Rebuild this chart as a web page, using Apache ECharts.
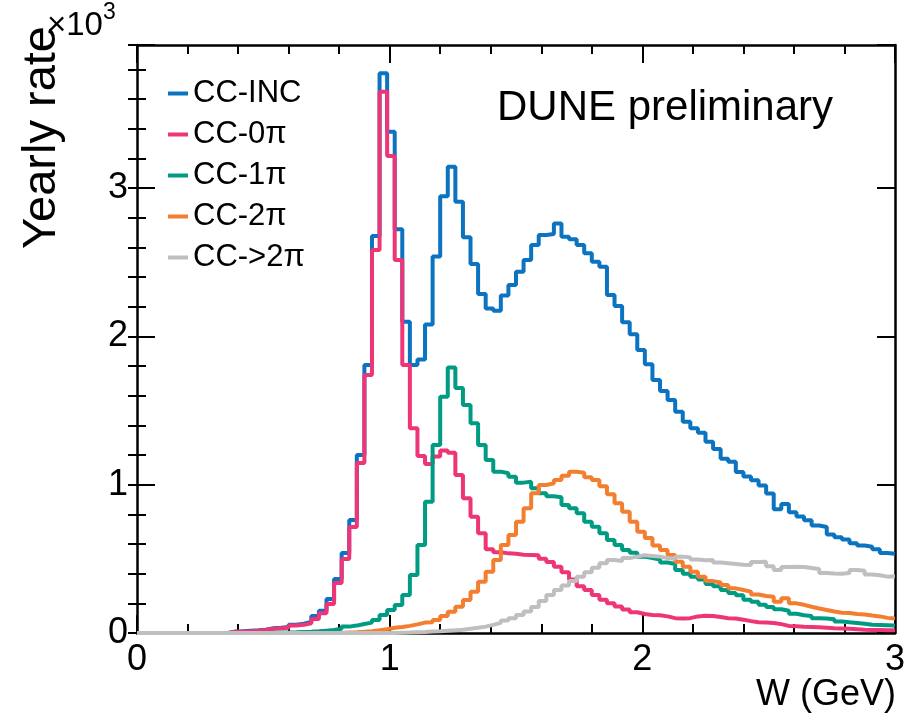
<!DOCTYPE html>
<html><head><meta charset="utf-8">
<script src="https://cdn.jsdelivr.net/npm/echarts@6/dist/echarts.min.js"></script>
<style>html,body{margin:0;padding:0;background:#fff}#c{width:908px;height:719px}</style>
</head><body><div id="c"></div>
<script>
// W bins: 100 bins of 0.03 GeV from 0 to 3 GeV
const binWidth = 0.03;
const nBins = 100;
const seriesNames = ['CC-INC', 'CC-0\u03c0', 'CC-1\u03c0', 'CC-2\u03c0', 'CC->2\u03c0'];
const xTickValues = [0, 1, 2, 3];
const yTickLabels = ['0', '1', '2', '3'];

const ccInc = [
  0,0,0,0,0,0,0,0,0,0,0,0,
  10,12,15,18,22,32,35,40,55,62,75,115,150,230,364,539,762,1200,
  1807,2677,3774,3380,2722,2099,1807,1845,2080,2538,
  2945,3144,2908,2668,2488,2286,2189,2173,2275,2347,
  2436,2515,2616,2684,2690,2762,2672,2655,2616,2560,
  2504,2470,2279,2205,2095,2015,1908,1812,1706,1632,
  1571,1492,1425,1380,1350,1290,1240,1175,1155,1085,
  1055,1030,995,940,835,870,815,785,760,725,
  715,665,645,630,605,590,582,565,540,535
];
const cc0pi = [
  0,0,0,0,0,0,0,0,0,0,0,0,
  8,10,12,15,20,28,32,36,50,55,65,95,133,196,337,499,715,1146,
  1740,2583,3650,3216,2515,1807,1380,1193,1140,1190,
  1230,1215,1065,908,784,672,565,545,537,535,
  528,526,524,500,478,447,410,360,315,290,
  256,225,200,178,158,140,128,122,120,112,
  100,98,100,112,117,115,108,100,98,90,
  80,72,70,68,60,48,45,42,40,38,
  35,32,30,28,25,22,20,20,18,18
];
const cc1pi = [
  0,0,0,0,0,0,0,0,0,0,0,0,0,0,0,0,0,
  2,3,4,5,7,9,12,16,20,28,43,50,61,
  70,88,121,155,189,256,391,593,885,1268,
  1593,1791,1652,1537,1414,1268,1166,1088,1077,1054,
  1014,1020,976,942,922,915,863,841,807,751,
  717,672,627,593,560,541,515,505,495,475,
  465,425,400,380,360,330,315,290,270,255,
  225,210,190,175,160,150,130,120,115,100,
  98,92,78,72,68,62,55,54,52,50
];
const cc2pi = [
  0,0,0,0,0,0,0,0,0,0,0,0,0,0,0,0,0,0,0,0,0,0,0,0,0,0,0,
  3,5,8,12,18,25,35,40,48,58,70,72,88,
  115,144,177,223,278,346,413,492,593,661,
  751,841,942,998,1010,1032,1060,1088,1080,1050,
  1032,990,935,875,818,751,683,640,590,560,
  526,481,447,413,380,350,340,324,301,290,
  279,260,250,245,211,234,200,190,177,165,
  155,145,137,135,128,125,118,112,102,98
];
const ccMore2pi = [
  0,0,0,0,0,0,0,0,0,0,0,0,0,0,0,0,0,0,0,0,0,0,0,0,0,0,0,0,0,0,0,0,0,0,
  2,3,5,7,10,12,
  15,18,22,28,35,43,55,68,85,100,
  121,145,175,215,256,290,320,350,380,410,
  440,470,492,485,505,515,525,520,515,505,
  500,515,510,495,490,492,475,470,465,460,
  458,478,480,450,425,445,447,445,438,432,
  405,402,400,405,425,420,395,390,380,382
];
const seriesColors = ['#0b73c0', '#ee3577', '#009b83', '#f47e2f', '#bfbfbf'];

const FONT = '"Liberation Sans", Arial, Helvetica, sans-serif';

function histPoints(vals) {
  const pts = [];
  for (let i = 0; i < nBins; i++) {
    pts.push([+(i * binWidth).toFixed(2), vals[i]]);
  }
  pts.push([+(nBins * binWidth).toFixed(2), vals[nBins - 1]]);
  return pts;
}

const allData = [ccInc, cc0pi, cc1pi, cc2pi, ccMore2pi];
const YMAX = 3965;

const chart = echarts.init(document.getElementById('c'), null, {renderer: 'canvas'});

const tickStyle = {color: '#000', width: 2};
const frameLine = {show: true, onZero: false, lineStyle: {color: '#000', width: 2.5}};

const baseX = {
  type: 'value', min: xTickValues[0], max: xTickValues[xTickValues.length - 1], interval: 1,
  axisLine: frameLine,
  axisTick: {show: true, inside: true, length: 18, lineStyle: tickStyle},
  minorTick: {show: true, splitNumber: 5, length: 9, lineStyle: tickStyle},
  splitLine: {show: false}, minorSplitLine: {show: false}
};

const option = {
  animation: false,
  backgroundColor: '#fff',
  grid: {left: 137, right: 10, top: 45, bottom: 86, containLabel: false},
  xAxis: [
    Object.assign({}, baseX, {
      position: 'bottom',
      axisLabel: {show: true, fontSize: 36, color: '#000', fontFamily: FONT, margin: 9,
        formatter: v => String(v)}
    }),
    Object.assign({}, baseX, {position: 'top', axisLabel: {show: false}})
  ],
  yAxis: [
    {type: 'value', min: 0, max: YMAX, interval: 1000, position: 'left',
      axisLine: frameLine,
      axisTick: {show: true, inside: true, length: 18, lineStyle: tickStyle},
      axisLabel: {show: true, fontSize: 36, color: '#000', fontFamily: FONT, margin: 9,
        formatter: v => (v % 1000 === 0 && v / 1000 < yTickLabels.length) ? yTickLabels[v / 1000] : ''},
      splitLine: {show: false}},
    {type: 'value', min: 0, max: YMAX, interval: 200, position: 'left',
      axisLine: {show: false},
      axisTick: {show: true, inside: true, length: 9, lineStyle: tickStyle},
      axisLabel: {show: false}, splitLine: {show: false}},
    {type: 'value', min: 0, max: YMAX, interval: 1000, position: 'right',
      axisLine: frameLine,
      axisTick: {show: true, inside: true, length: 18, lineStyle: tickStyle},
      axisLabel: {show: false}, splitLine: {show: false}},
    {type: 'value', min: 0, max: YMAX, interval: 200, position: 'right',
      axisLine: {show: false},
      axisTick: {show: true, inside: true, length: 9, lineStyle: tickStyle},
      axisLabel: {show: false}, splitLine: {show: false}}
  ],
  legend: {
    show: true, orient: 'vertical', left: 168, top: 78, padding: 0,
    icon: 'rect', itemWidth: 20, itemHeight: 4, itemGap: 10,
    selectedMode: false,
    textStyle: {fontSize: 31, color: '#000', fontFamily: FONT, lineHeight: 31},
    data: seriesNames
  },
  series: seriesNames.map((name, k) => ({
    name: name, type: 'line', step: 'end', symbol: 'none',
    xAxisIndex: 0, yAxisIndex: 0,
    color: seriesColors[k],
    lineStyle: {color: seriesColors[k], width: 4},
    itemStyle: {color: seriesColors[k]},
    data: histPoints(allData[k]),
    z: 2 + k
  })),
  graphic: [
    {type: 'text', left: 497, top: 87, z: 10,
      style: {text: 'DUNE preliminary', fontSize: 42, fontFamily: FONT, fill: '#000'}},
    {type: 'text', right: 12, top: 677, z: 10,
      style: {text: 'W (GeV)', fontSize: 36, fontFamily: FONT, fill: '#000'}},
    {type: 'text', x: 42, y: 26, rotation: Math.PI / 2, z: 10,
      style: {text: 'Yearly rate', fontSize: 47, fontFamily: FONT, fill: '#000',
        align: 'right', verticalAlign: 'middle'}},
    {type: 'text', left: 47, top: 9, z: 10,
      style: {text: '\u00d710', fontSize: 33, fontFamily: FONT, fill: '#000'}},
    {type: 'text', left: 103, top: 1, z: 10,
      style: {text: '3', fontSize: 23, fontFamily: FONT, fill: '#000'}}
  ]
};
chart.setOption(option);
</script>
</body></html>
